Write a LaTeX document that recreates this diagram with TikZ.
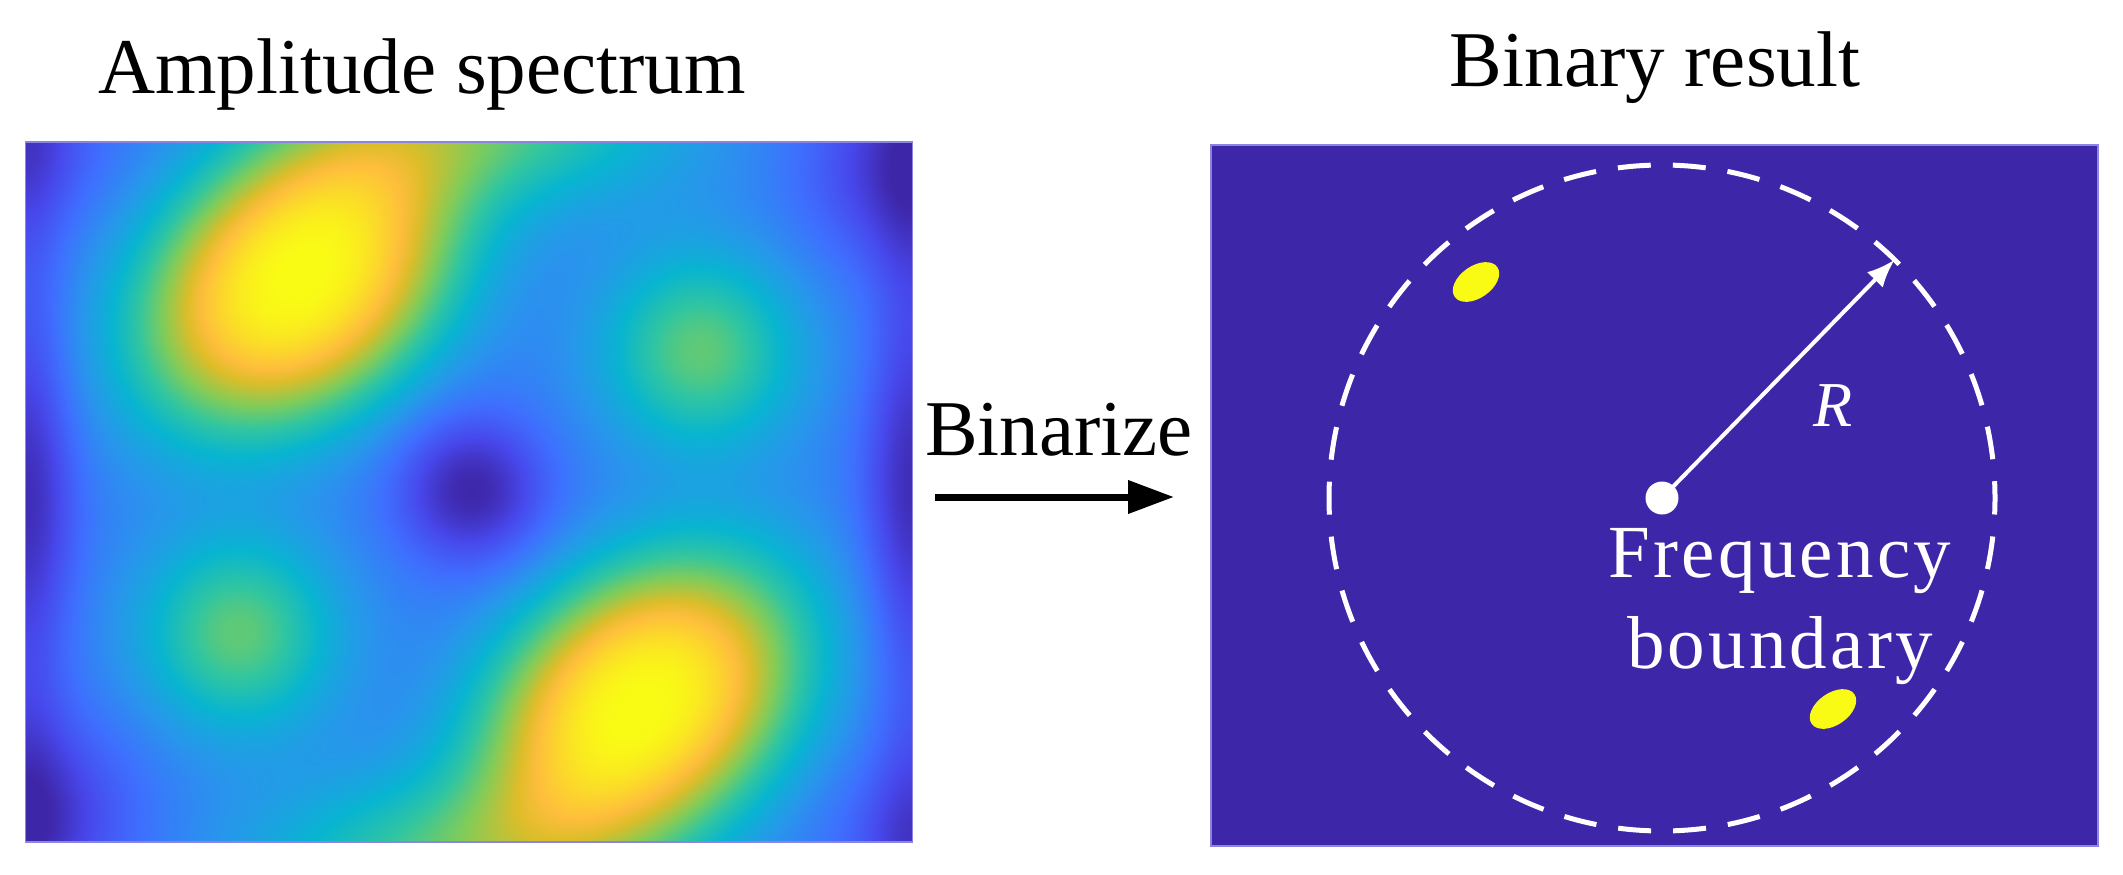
\documentclass[tikz,border=0pt]{standalone}
\usepackage{fontspec}
\setmainfont{Liberation Serif}
\usetikzlibrary{arrows.meta,shapes.geometric}
\definecolor{pdark}{rgb}{0.2422,0.1504,0.6603}
\definecolor{pyel}{rgb}{0.9769,0.9839,0.0805}
\definecolor{edgecol}{rgb}{0.55,0.52,0.88}
\newcommand\psterm[5]{2 index #2 sub dup mul #4 mul 2 index #3 sub dup mul #5 mul add dup 60 gt {pop 60} if neg 2.71828 exch exp #1 mul add }
\newcommand\psrot[7]{2 index #2 sub 2 index #3 sub 2 copy mul #5 mul 3 1 roll dup mul #6 mul exch dup mul #4 mul add add dup 0 lt {pop 0} if dup 30 gt {pop 30} if #7 exp neg 2.71828 exch exp #1 mul add }
\newcommand\psseg[6]{dup #2 mul #1 add exch dup #4 mul #3 add exch #6 mul #5 add }
\pgfdeclarefunctionalshading{ampspec}{\pgfpointorigin}{\pgfpoint{100bp}{100bp}}{}{
exch 25 sub 0.1776 mul exch 75 exch sub 0.14 mul 0.27
\psrot{0.73}{2.72}{1.38}{0.4095}{0.2536}{0.4726}{1.3}
\psrot{0.73}{6.16}{5.62}{0.4095}{0.2536}{0.4726}{1.3}
\psterm{0.30}{4.70}{-0.20}{0.296}{1.389}
\psterm{0.30}{4.18}{7.20}{0.296}{1.389}
\psterm{0.35}{6.75}{2.09}{1.05}{1.05}
\psterm{0.35}{2.13}{4.91}{1.05}{1.05}
\psterm{-0.27}{4.46}{3.48}{1.8}{1.8}
\psterm{-0.10}{0.00}{0.00}{5.56}{0}
\psterm{-0.10}{8.88}{0.00}{5.56}{0}
\psterm{-0.15}{0.00}{3.55}{3.125}{0.5}
\psterm{-0.15}{8.88}{3.45}{3.125}{0.5}
\psterm{-0.20}{8.75}{0.25}{1.02}{1.02}
\psterm{-0.20}{0.13}{6.75}{1.02}{1.02}
\psterm{-0.13}{0.00}{0.00}{1.39}{1.39}
\psterm{-0.13}{8.88}{7.00}{1.39}{1.39}
exch pop exch pop
dup 0 lt {pop 0} if dup 1 gt {pop 1} if 63 mul
dup 7 lt { 7 div \psseg{0.2422}{0.0381}{0.1504}{0.1278}{0.6603}{0.2618} }
{ dup 14 lt { 7 sub 7 div \psseg{0.2803}{-0.0363}{0.2782}{0.1576}{0.9221}{0.0767} }
{ dup 21 lt { 14 sub 7 div \psseg{0.2440}{-0.0900}{0.4358}{0.1544}{0.9988}{-0.0770} }
{ dup 28 lt { 21 sub 7 div \psseg{0.1540}{-0.1243}{0.5902}{0.1180}{0.9218}{-0.1055} }
{ dup 35 lt { 28 sub 7 div \psseg{0.0297}{0.1641}{0.7082}{0.0676}{0.8163}{-0.1912} }
{ dup 42 lt { 35 sub 7 div \psseg{0.1938}{0.3106}{0.7758}{0.0235}{0.6251}{-0.2771} }
{ dup 49 lt { 42 sub 7 div \psseg{0.5044}{0.3590}{0.7993}{-0.0587}{0.3480}{-0.1884} }
{ dup 53 lt { 49 sub 4 div \psseg{0.8634}{0.1322}{0.7406}{0.0028}{0.1596}{0.0775} }
{ dup 56 lt { 53 sub 3 div \psseg{0.9956}{-0.0064}{0.7434}{0.0702}{0.2371}{-0.0486} }
{ 56 sub 7 div \psseg{0.9892}{-0.0123}{0.8136}{0.1703}{0.1885}{-0.1080} }
ifelse } ifelse } ifelse } ifelse } ifelse } ifelse } ifelse } ifelse } ifelse
}
\tikzset{
  title/.style={anchor=base, inner sep=0, font=\fontsize{79}{95}\selectfont},
  wlabel/.style={anchor=base, inner sep=0, text=white, font=\fontsize{75}{90}\selectfont\addfontfeatures{LetterSpace=4.3}},
  blob/.style={ellipse, fill=pyel, draw=none, inner sep=0, minimum width=52, minimum height=32, rotate=35},
  panel/.style={rectangle, inner sep=0, draw=edgecol, line width=1.5}
}
\begin{document}
\begin{tikzpicture}[x=1pt,y=-1pt]
\useasboundingbox (0,0) rectangle (2123,875);
\fill[white] (0,0) rectangle (2123,875);
% left panel
\node[panel, shading=ampspec, minimum width=887, minimum height=700] (spec) at (469.2,491.8) {};
\node[title] (t1) at (422,93) {Amplitude spectrum};
% right panel
\node[panel, fill=pdark, minimum width=887, minimum height=701] (bin) at (1654.5,495.5) {};
\node[title] (t2) at (1655,86) {Binary result};
% binarize arrow
\node[title] (bz) at (1059,455) {Binarize};
\coordinate (a0) at (935,497);
\coordinate (a1) at (1174,497);
\draw[line width=7, -{Triangle[length=46pt,width=32pt]}] (a0) -- (a1);
% binary content
\node[blob] (b1) at (1476,282) {};
\node[blob] (b2) at (1833,709) {};
\coordinate (ctr) at (1662,498);
\draw[white, line width=5, dash pattern=on 33pt off 22.06pt, dash phase=16.5pt] (ctr) circle[radius=333];
\node[circle, fill=white, inner sep=0, minimum size=33] (dot) at (ctr) {};
\coordinate (rtip) at (1894.6,259.7);
\draw[white, line width=4, -{Latex[length=28pt,width=22pt]}] (dot.center) -- (rtip);
\node[anchor=base, inner sep=0, text=white, font=\fontsize{64}{77}\selectfont\itshape] (r) at (1833,426) {R};
\node[wlabel] (fq) at (1780,577) {Frequency};
\node[wlabel] (fb) at (1780,668) {boundary};
\end{tikzpicture}
\end{document}
